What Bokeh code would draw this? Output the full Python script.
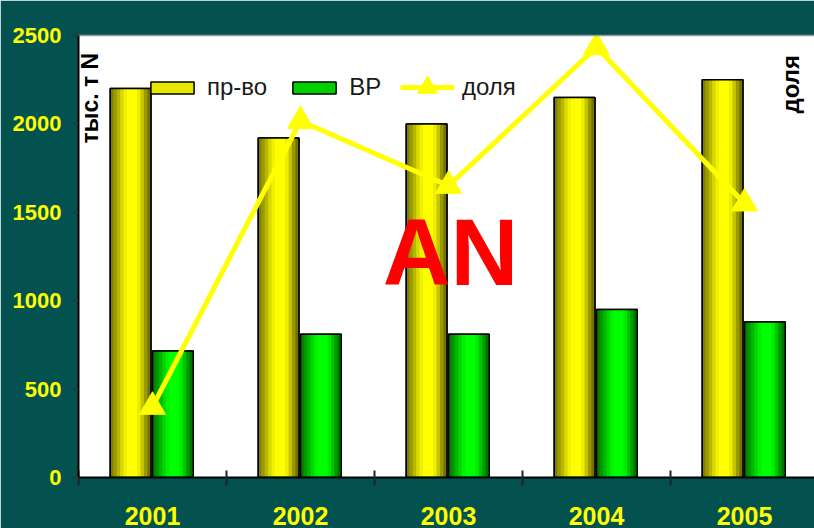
import numpy as np
from bokeh.plotting import figure
from bokeh.models import (Range1d, LinearAxis, FixedTicker, Legend, LegendItem, Label)
from bokeh.embed import file_html
from bokeh.resources import INLINE

# ---- data ----
years = ["2001", "2002", "2003", "2004", "2005"]
production = [2200, 1920, 2000, 2150, 2250]   # пр-во
vr = [715, 810, 810, 950, 880]                 # ВР
share = [0.324, 0.421, 0.399, 0.446, 0.393]    # доля
y_ticks = [0, 500, 1000, 1500, 2000, 2500]

x = np.arange(len(years)) + 0.5
centers = [float(v) for v in x]
boundaries = [float(v) for v in np.arange(len(years) + 1)]

BAR_W = 0.275
OFF_PROD = -0.148
OFF_VR = 0.138
profile = [0.5, 0.6, 0.72, 0.85, 0.95, 1.0, 1.0, 1.0, 0.93, 0.78, 0.6, 0.45]

p = figure(width=814, height=528, x_range=Range1d(0, 4.973), y_range=Range1d(0, 2500),
           output_backend="svg", toolbar_location=None,
           x_axis_type=None, y_axis_type=None,
           min_border_left=78, min_border_top=35, min_border_bottom=51, min_border_right=0)
p.extra_y_ranges = {"share": Range1d(0.3, 0.45)}
p.background_fill_color = "white"
p.border_fill_color = "#03524f"
p.outline_line_color = None
p.xgrid.visible = False
p.ygrid.visible = False


def hexc(r, g, b):
    return "#%02x%02x%02x" % (int(r), int(g), int(b))


def draw_bar(off, vals, rgb, legend_color):
    base = p.vbar(x=x + off, top=vals, width=BAR_W, fill_color=legend_color,
                  line_color="black", line_width=1.5)
    n = len(profile)
    sw = BAR_W / n
    for k, t in enumerate(profile):
        cx = x + off - BAR_W / 2 + (k + 0.5) * sw
        p.vbar(x=cx, top=vals, width=sw * 1.15,
               fill_color=hexc(rgb[0] * t, rgb[1] * t, rgb[2] * t), line_color=None)
    p.vbar(x=x + off, top=vals, width=BAR_W, fill_alpha=0,
           line_color="black", line_width=1.5)
    return base


b1 = draw_bar(OFF_PROD, production, (255, 255, 0), "#e6e600")
b2 = draw_bar(OFF_VR, vr, (0, 255, 0), "#00d000")

ln = p.line(x, share, y_range_name="share", line_color="#ffff00", line_width=5)
sc = p.scatter(x, share, y_range_name="share", marker="triangle", size=26,
               fill_color="#ffff00", line_color="#ffff00")

# axes
yaxis = LinearAxis(ticker=FixedTicker(ticks=y_ticks),
                   axis_line_color="black", axis_line_width=2,
                   major_tick_in=0, major_tick_out=6,
                   major_tick_line_color="#333333", major_tick_line_width=2,
                   minor_tick_line_color=None,
                   major_label_standoff=11, major_label_text_color="#ffff00",
                   major_label_text_font="Liberation Sans",
                   major_label_text_font_style="bold",
                   major_label_text_font_size="22px")
p.add_layout(yaxis, "left")

xaxis = LinearAxis(ticker=FixedTicker(ticks=centers, minor_ticks=boundaries),
                   major_label_overrides={c: yr for c, yr in zip(centers, years)},
                   axis_line_color="black", axis_line_width=2,
                   major_tick_in=0, major_tick_out=0, major_tick_line_color=None,
                   minor_tick_in=7, minor_tick_out=8,
                   minor_tick_line_color="#222222", minor_tick_line_width=2,
                   major_label_standoff=21, major_label_text_color="#ffff00",
                   major_label_text_font="Liberation Sans",
                   major_label_text_font_style="bold",
                   major_label_text_font_size="25px")
p.add_layout(xaxis, "below")

top_axis = LinearAxis(ticker=FixedTicker(ticks=[]), axis_line_color="#999999",
                      axis_line_width=1.5, major_tick_line_color=None,
                      minor_tick_line_color=None)
p.add_layout(top_axis, "above")

common = dict(orientation="horizontal", glyph_width=54, spacing=20, label_standoff=8,
              padding=0, margin=0, border_line_color=None, background_fill_alpha=0,
              label_text_font="Liberation Sans", label_text_font_size="24px",
              label_text_color="#1a1a1a")
legend_bars = Legend(items=[LegendItem(label="пр-во", renderers=[b1]),
                            LegendItem(label="ВР", renderers=[b2])],
                     location=(67, 376), glyph_height=15, **common)
legend_line = Legend(items=[LegendItem(label="доля", renderers=[ln, sc])],
                     location=(322, 365), glyph_height=50, **common)
p.add_layout(legend_bars)
p.add_layout(legend_line)

# y-axis title inside the plot area, next to the axis line
p.add_layout(Label(x=0.08, y=1889, angle=np.pi / 2, text="тыс. т N",
                   text_align="left", text_baseline="middle",
                   text_font="Liberation Sans", text_font_style="bold",
                   text_font_size="23px", text_color="black"))
p.add_layout(Label(x=4.81, y=2059, angle=np.pi / 2, text="доля",
                   text_align="left", text_baseline="middle",
                   text_font="Liberation Sans", text_font_style="bold",
                   text_font_size="24px", text_color="black"))
p.add_layout(Label(x=2.514, y=1270, text="AN", text_align="center",
                   text_baseline="middle", text_font="Liberation Sans",
                   text_font_style="bold", text_font_size="94px", text_color="#ff0000"))

open("out.html", "w").write(file_html(p, INLINE))
